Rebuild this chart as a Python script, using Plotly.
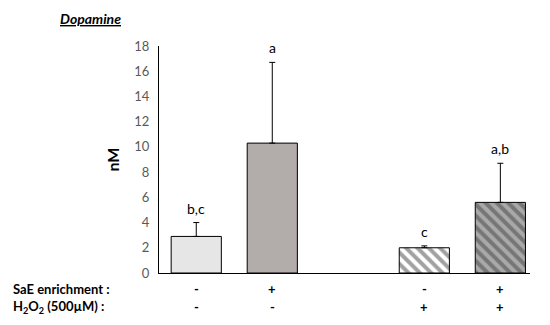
import plotly.graph_objects as go

# Data
groups = ["Ctrl", "SaE", "H2O2", "SaE+H2O2"]
positions = [0, 1, 3, 4]
means = [2.9, 10.3, 2.0, 5.6]
errors = [1.1, 6.4, 0.15, 3.1]
letters = ["b,c", "a", "c", "a,b"]
sae_row = ["-", "+", "-", "+"]
h2o2_row = ["-", "-", "+", "+"]
y_ticks = [0, 2, 4, 6, 8, 10, 12, 14, 16, 18]

fill_colors = ["#e6e6e6", "#b2acaa", "#ffffff", "#a9a9a9"]
patterns = ["", "", "\\", "\\"]

FONT = "Lato, 'Open Sans', sans-serif"

fig = go.Figure()
fig.add_trace(go.Bar(
    x=positions, y=means,
    width=0.66,
    marker=dict(
        color=fill_colors,
        line=dict(color="#000000", width=1),
        pattern=dict(shape=patterns, fgcolor="#000000", size=8, solidity=0.5),
    ),
    error_y=dict(type="data", symmetric=False, array=errors,
                 arrayminus=[0]*4, color="#000000", thickness=1, width=3),
    showlegend=False,
))

annotations = []
for p, m, e, l in zip(positions, means, errors, letters):
    annotations.append(dict(x=p, y=m + e, xref="x", yref="y", text=l,
                            showarrow=False, yanchor="bottom", yshift=4,
                            font=dict(family=FONT, size=14, color="#000000")))
for p, s, h in zip(positions, sae_row, h2o2_row):
    annotations.append(dict(x=p, y=-0.07, xref="x", yref="paper", text="<b>%s</b>" % s,
                            yanchor="middle", showarrow=False,
                            font=dict(family=FONT, size=13, color="#000000")))
    annotations.append(dict(x=p, y=-0.15, xref="x", yref="paper", text="<b>%s</b>" % h,
                            yanchor="middle", showarrow=False,
                            font=dict(family=FONT, size=13, color="#000000")))
annotations.append(dict(x=-0.40, y=-0.07, xref="paper", yref="paper", xanchor="left",
                        yanchor="middle", text="<b>SaE enrichment :</b>", showarrow=False,
                        font=dict(family=FONT, size=13, color="#000000")))
annotations.append(dict(x=-0.40, y=-0.15, xref="paper", yref="paper", xanchor="left",
                        yanchor="middle",
                        text="<b>H<sub>2</sub>O<sub>2</sub> (500µM) :</b>", showarrow=False,
                        font=dict(family=FONT, size=13, color="#000000")))
annotations.append(dict(x=-0.185, y=1.12, xref="paper", yref="paper", xanchor="center",
                        yanchor="middle",
                        text="<b><i><u>Dopamine</u></i></b>", showarrow=False,
                        font=dict(family=FONT, size=14, color="#000000")))

fig.update_layout(
    width=542, height=317,
    margin=dict(l=151, r=20, t=38, b=52),
    paper_bgcolor="white", plot_bgcolor="white",
    font=dict(family=FONT, color="#595959"),
    xaxis=dict(range=[-0.49, 4.39], showticklabels=False, ticks="",
               showgrid=False, zeroline=False, showline=True, automargin=False,
               linecolor="#000000", linewidth=1),
    yaxis=dict(range=[0, 18], tickvals=y_ticks, ticks="", showgrid=False,
               zeroline=False, showline=True, linecolor="#000000", linewidth=1,
               automargin=False, ticklabelstandoff=6,
               tickfont=dict(family=FONT, size=13, color="#595959"),
               title=dict(text="<b>nM</b>", standoff=10,
                          font=dict(family=FONT, size=16, color="#000000"))),
    annotations=annotations,
)

fig.write_html("out.html")
